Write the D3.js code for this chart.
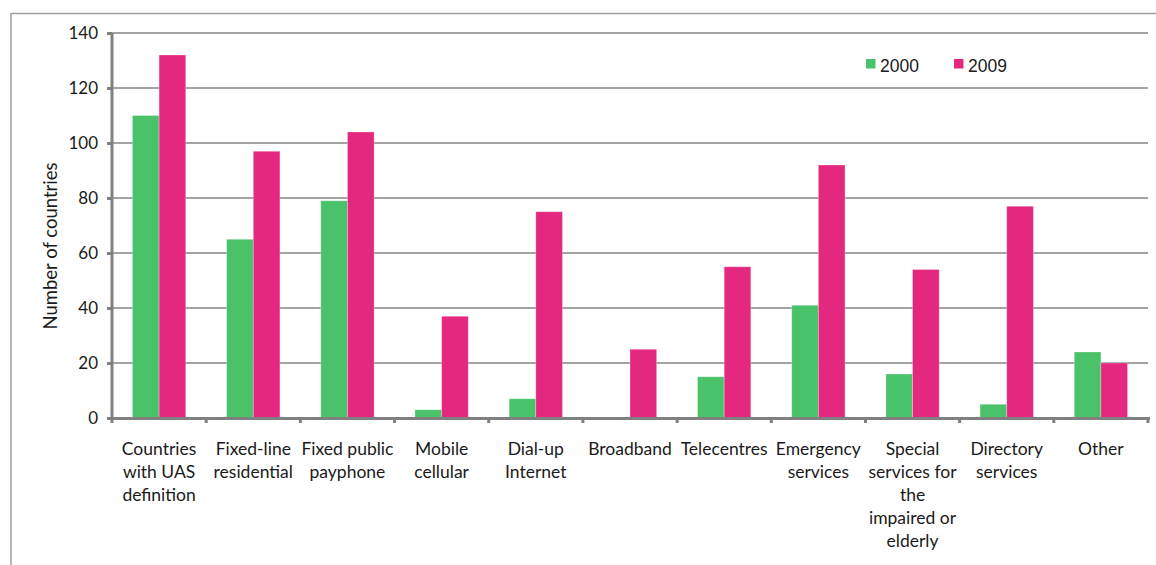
<!DOCTYPE html>
<html>
<head>
<meta charset="utf-8">
<script src="https://cdn.jsdelivr.net/npm/d3@7"></script>
<style>
  html, body { margin: 0; padding: 0; background: #fff; }
  svg { display: block; }
</style>
</head>
<body>
<svg id="chart" width="1156" height="565"></svg>
<script>
// ---- data ----
const categories = [
  "Countries with UAS definition",
  "Fixed-line residential",
  "Fixed public payphone",
  "Mobile cellular",
  "Dial-up Internet",
  "Broadband",
  "Telecentres",
  "Emergency services",
  "Special services for the impaired or elderly",
  "Directory services",
  "Other"
];
const categoryLines = [
  ["Countries", "with UAS", "definition"],
  ["Fixed-line", "residential"],
  ["Fixed public", "payphone"],
  ["Mobile", "cellular"],
  ["Dial-up", "Internet"],
  ["Broadband"],
  ["Telecentres"],
  ["Emergency", "services"],
  ["Special", "services for", "the", "impaired or", "elderly"],
  ["Directory", "services"],
  ["Other"]
];
const seriesNames = ["2000", "2009"];
const values2000 = [110, 65, 79, 3, 7, 0, 15, 41, 16, 5, 24];
const values2009 = [132, 97, 104, 37, 75, 25, 55, 92, 54, 77, 20];
const yTicks = [0, 20, 40, 60, 80, 100, 120, 140];
const yTitle = "Number of countries";

(function () {
// ---- layout ----
const colors = { "2000": "#4ac26a", "2009": "#e5287f" };
const svg = d3.select("#chart");
const pLeft = 112, pRight = 1148, pTop = 33, pBottom = 418;
const labelFont = "Lato, 'Open Sans', sans-serif";

// frame (top and left lines)
svg.append("line").attr("x1", 11).attr("x2", 1156).attr("y1", 13.5).attr("y2", 13.5)
  .attr("stroke", "#a0a0a0").attr("stroke-width", 1.5);
svg.append("line").attr("x1", 11).attr("x2", 11).attr("y1", 13).attr("y2", 565)
  .attr("stroke", "#a0a0a0").attr("stroke-width", 1.5);

const y = d3.scaleLinear().domain([0, 140]).range([pBottom, pTop]);
const x0 = d3.scaleBand().domain(categories).range([pLeft, pRight])
  .paddingInner(0.434).paddingOuter(0.217);
const x1 = d3.scaleBand().domain(seriesNames).range([0, x0.bandwidth()]);
const step = x0.step();

// gridlines
svg.append("g").selectAll("line").data(yTicks.filter(d => d > 0)).join("line")
  .attr("x1", pLeft).attr("x2", pRight)
  .attr("y1", d => y(d)).attr("y2", d => y(d))
  .attr("stroke", "#858585").attr("stroke-width", 1.5);

// bars
const rows = categories.map((c, i) => ({ c, vals: [values2000[i], values2009[i]] }));
const g = svg.append("g").selectAll("g").data(rows).join("g")
  .attr("transform", d => `translate(${x0(d.c)},0)`);
g.selectAll("rect").data(d => seriesNames.map((s, k) => ({ s, v: d.vals[k] })))
  .join("rect")
  .attr("x", d => x1(d.s)).attr("width", x1.bandwidth())
  .attr("y", d => y(d.v)).attr("height", d => y(0) - y(d.v))
  .attr("fill", d => colors[d.s])
  .attr("stroke", "#ffffff").attr("stroke-opacity", 0.35).attr("stroke-width", 0.8);

// y axis
const yAxis = d3.axisLeft(y).tickValues(yTicks).tickSize(5).tickPadding(9);
const ya = svg.append("g").attr("transform", `translate(${pLeft},0)`).call(yAxis);
ya.select(".domain").attr("stroke", "#808080").attr("stroke-width", 3)
  .attr("d", `M0,${pTop}V${pBottom}`);
ya.selectAll(".tick line").attr("stroke", "#808080").attr("stroke-width", 3);
ya.selectAll(".tick text").attr("font-family", labelFont).attr("font-size", 17)
  .attr("fill", "#1a1a1a");

// x axis
const boundaries = d3.range(categories.length + 1).map(i => pLeft + i * step);
svg.append("line").attr("x1", pLeft - 1.5).attr("x2", pRight + 2)
  .attr("y1", pBottom + 0.5).attr("y2", pBottom + 0.5)
  .attr("stroke", "#808080").attr("stroke-width", 3);
svg.append("g").selectAll("line").data(boundaries).join("line")
  .attr("x1", d => d).attr("x2", d => d)
  .attr("y1", pBottom).attr("y2", pBottom + 5)
  .attr("stroke", "#808080").attr("stroke-width", 3);

// category labels
const lab = svg.append("g").selectAll("text").data(categories).join("text")
  .attr("x", d => x0(d) + x0.bandwidth() / 2)
  .attr("y", 455)
  .attr("text-anchor", "middle")
  .attr("font-family", labelFont).attr("font-size", 17.5).attr("fill", "#1a1a1a");
lab.selectAll("tspan").data((d, i) => categoryLines[i]).join("tspan")
  .attr("x", function() { return this.parentNode.getAttribute("x"); })
  .attr("dy", (d, i) => i === 0 ? 0 : 23)
  .text(d => d);

// y title
svg.append("text")
  .attr("transform", `translate(57,246) rotate(-90)`)
  .attr("text-anchor", "middle")
  .attr("font-family", labelFont).attr("font-size", 18.5).attr("fill", "#1a1a1a")
  .text(yTitle);

// legend
const legendX = [866, 954];
const lg = svg.append("g").selectAll("g").data(seriesNames).join("g")
  .attr("transform", (d, i) => `translate(${legendX[i]},59)`);
lg.append("rect").attr("width", 9.5).attr("height", 9.5).attr("fill", d => colors[d]);
lg.append("text").attr("x", 14).attr("y", 12.5)
  .attr("font-family", "'Liberation Sans', Arial, sans-serif").attr("font-size", 17.5)
  .attr("fill", "#1a1a1a").text(d => d);
})();
</script>
</body>
</html>
